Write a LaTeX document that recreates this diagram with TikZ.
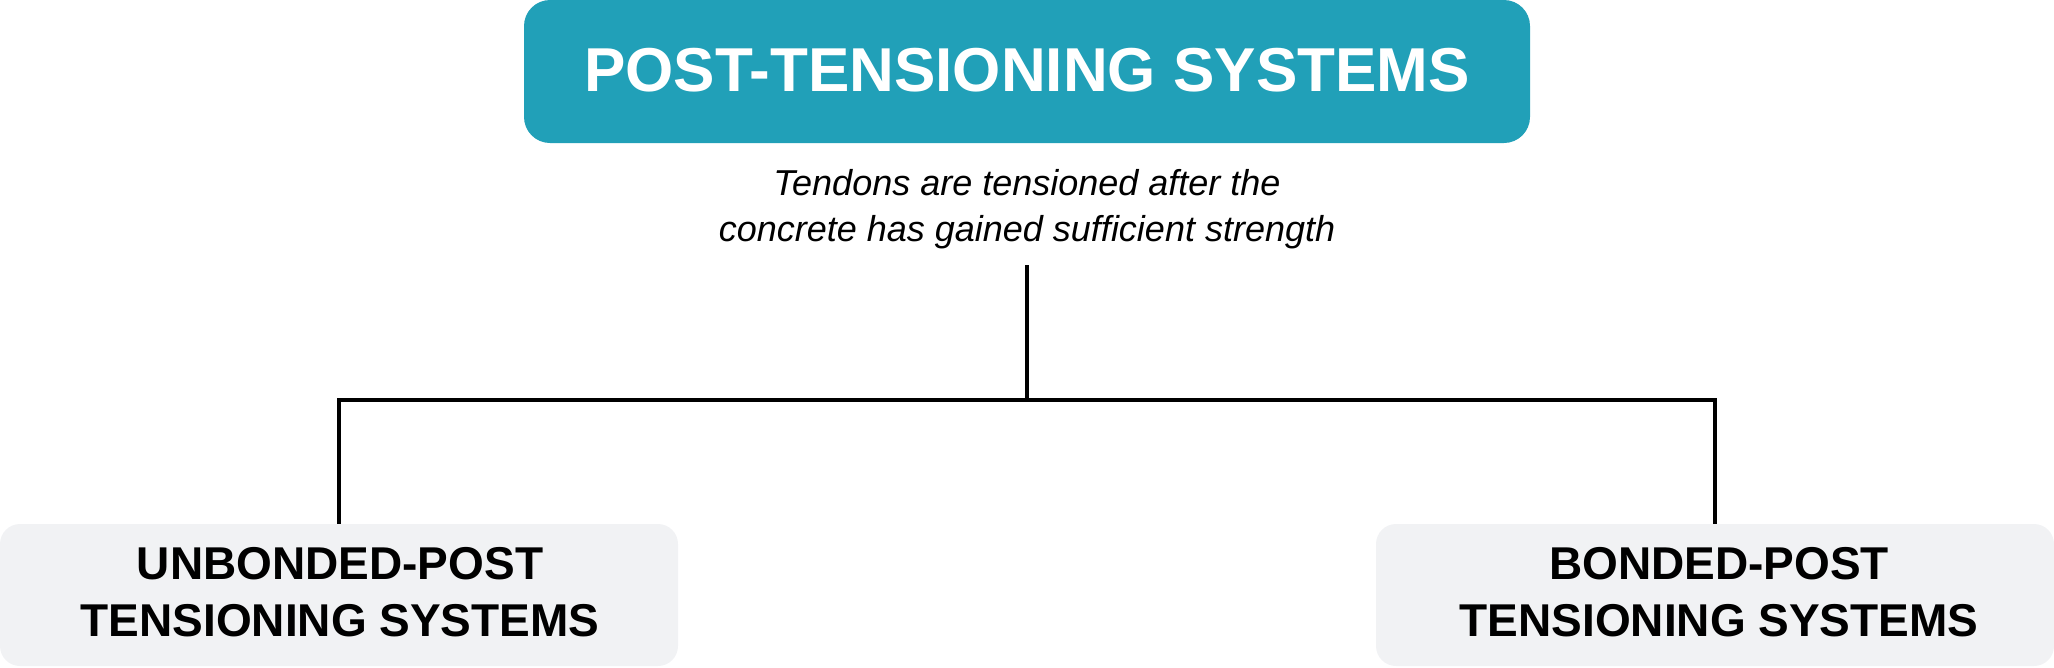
\documentclass[tikz,border=0pt]{standalone}
\usepackage{fontspec}
\setmainfont{Liberation Sans}
\definecolor{teal}{HTML}{21A0B8}
\definecolor{boxgray}{HTML}{F1F2F4}
\begin{document}
\begin{tikzpicture}[x=1pt,y=-1pt,
  titlebox/.style={fill=teal, rounded corners=26pt, minimum width=1006pt, minimum height=143pt, inner sep=0pt, text=white, text height=44.4pt, text depth=5pt, font=\fontsize{62}{70}\selectfont\bfseries},
  leafbox/.style={fill=boxgray, rounded corners=20pt, minimum width=678pt, minimum height=142pt, inner sep=0pt},
  leaftext/.style={align=center, inner sep=0pt, text=black, font=\fontsize{46}{57}\selectfont\bfseries},
  desctext/.style={align=center, inner sep=0pt, font=\fontsize{36}{46}\selectfont\itshape},
  conn/.style={line width=4pt, black}]
\useasboundingbox (0,0) rectangle (2054,667);
\node[titlebox] (title) at (1027,71.5) {POST-TENSIONING SYSTEMS};
\node[desctext, anchor=north] (desc) at (1027,169) {Tendons are tensioned after the\\concrete has gained sufficient strength};
\node[leafbox] (left) at (339,595) {};
\node[leaftext] (lefttext) at (340,592) {UNBONDED-POST\\TENSIONING SYSTEMS};
\node[leafbox] (right) at (1715,595) {};
\node[leaftext] (righttext) at (1719,592) {BONDED-POST\\TENSIONING SYSTEMS};
\coordinate (j) at (1027,400);
\coordinate (top) at (1027,265);
\draw[conn] (top) -- (j);
\draw[conn] (left.north) |- (j) -| (right.north);
\end{tikzpicture}
\end{document}
